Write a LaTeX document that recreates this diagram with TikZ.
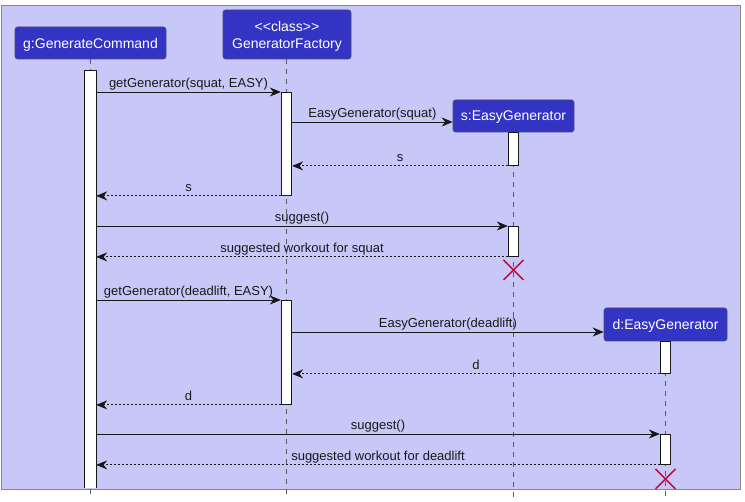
\documentclass[tikz,border=0pt]{standalone}
\usepackage{fontspec}
\setmainfont{Liberation Sans}
\usetikzlibrary{arrows.meta}
\definecolor{bgpurple}{RGB}{200,200,248}
\definecolor{partfill}{RGB}{52,52,196}
\definecolor{partline}{RGB}{72,72,120}
\definecolor{framegray}{RGB}{136,136,136}
\definecolor{lifegray}{RGB}{90,90,90}
\definecolor{msgcol}{RGB}{24,24,24}
\definecolor{killred}{RGB}{190,18,70}
\begin{document}
\begin{tikzpicture}[x=1pt,y=-1pt,
  participant/.style={rectangle, rounded corners=2.5pt, fill=partfill, draw=partline,
    line width=0.6pt, text=white, font=\fontsize{14}{17}\selectfont, inner sep=0pt,
    align=center, text depth=0pt},
  actbar/.style={rectangle, fill=white, draw=msgcol, line width=0.9pt,
    minimum width=10.4pt, inner sep=0pt, anchor=north},
  lifeline/.style={draw=lifegray, line width=0.6pt, dash pattern=on 5pt off 5pt},
  call/.style={draw=msgcol, line width=0.9pt, -{Stealth[length=11pt,width=9pt,inset=3.5pt]}},
  reply/.style={call, dash pattern=on 2pt off 2pt},
  msglabel/.style={font=\fontsize{13}{15}\selectfont, anchor=base, inner sep=0pt,
    text=msgcol, yshift=4pt},
  kill/.style={draw=killred, line width=1.6pt}
]
\useasboundingbox (0,0) rectangle (745,502);
% frame
\draw[fill=bgpurple, draw=framegray, line width=1pt] (1,6) rectangle (740,490);

% participants
\node[participant, minimum width=151pt, minimum height=32pt] (g) at (90.5,43) {g:GenerateCommand};
\node[participant, minimum width=128pt, minimum height=49pt] (f) at (287,34.5)
  {<{}<class>{}>\\GeneratorFactory};
\node[participant, minimum width=121pt, minimum height=32pt] (s) at (513.5,116) {s:EasyGenerator};
\node[participant, minimum width=123pt, minimum height=33pt] (d) at (665.5,324.5) {d:EasyGenerator};

% lifelines
\coordinate (gend) at (90.5,497);
\coordinate (fend) at (286.5,497);
\coordinate (send) at (513.5,497);
\coordinate (dend) at (665.5,497);
\draw[lifeline] (g.south -| gend) -- (gend);
\draw[lifeline] (f.south -| fend) -- (fend);
\draw[lifeline] (s.south -| send) -- (send);
\draw[lifeline] (d.south -| dend) -- (dend);

% activation bars; the caller's bar runs off the bottom of the frame, open-ended
\node[actbar, draw=none, minimum height=417.5pt] (ga) at (90.5,70) {};
\draw[draw=msgcol, line width=0.9pt] (ga.south west) -- (ga.north west) -- (ga.north east) -- (ga.south east);
\node[actbar, minimum height=103pt] (fa1) at (286.5,92) {};
\node[actbar, minimum height=33pt] (sa1) at (513.5,132) {};
\node[actbar, minimum height=30pt] (sa2) at (513.5,226) {};
\node[actbar, minimum height=104pt] (fa2) at (286.5,300) {};
\node[actbar, minimum height=32pt] (da1) at (665.5,341) {};
\node[actbar, minimum height=30pt] (da2) at (665.5,434) {};

% messages
\draw[call] (ga.east |- 0,92) -- (fa1.west |- 0,92)
  node[msglabel, midway] {getGenerator(squat, EASY)};
\draw[call] (fa1.east |- 0,122) -- (s.west |- 0,122)
  node[msglabel, midway] {EasyGenerator(squat)};
\draw[reply] (sa1.south west) -- (fa1.east |- sa1.south west)
  node[msglabel, midway] {s};
\draw[reply] (fa1.south west) -- (ga.east |- fa1.south west)
  node[msglabel, midway] {s};
\draw[call] (ga.east |- sa2.north west) -- (sa2.north west)
  node[msglabel, midway] {suggest()};
\draw[reply] (sa2.south west) -- (ga.east |- sa2.south west)
  node[msglabel, midway] {suggested workout for squat};
\draw[call] (ga.east |- fa2.north west) -- (fa2.north west)
  node[msglabel, midway] {getGenerator(deadlift, EASY)};
\draw[call] (fa2.east |- 0,332) -- (d.west |- 0,332)
  node[msglabel, midway] {EasyGenerator(deadlift)};
\draw[reply] (da1.south west) -- (fa2.east |- da1.south west)
  node[msglabel, midway] {d};
\draw[reply] (fa2.south west) -- (ga.east |- fa2.south west)
  node[msglabel, midway] {d};
\draw[call] (ga.east |- da2.north west) -- (da2.north west)
  node[msglabel, midway] {suggest()};
\draw[reply] (da2.south west) -- (ga.east |- da2.south west)
  node[msglabel, midway] {suggested workout for deadlift};

% destruction marks
\draw[kill] ([shift={(-10,3)}]sa2.south) -- ([shift={(10,23)}]sa2.south)
            ([shift={(10,3)}]sa2.south) -- ([shift={(-10,23)}]sa2.south);
\draw[kill] ([shift={(-10,4)}]da2.south) -- ([shift={(10,24)}]da2.south)
            ([shift={(10,4)}]da2.south) -- ([shift={(-10,24)}]da2.south);
\end{tikzpicture}
\end{document}
